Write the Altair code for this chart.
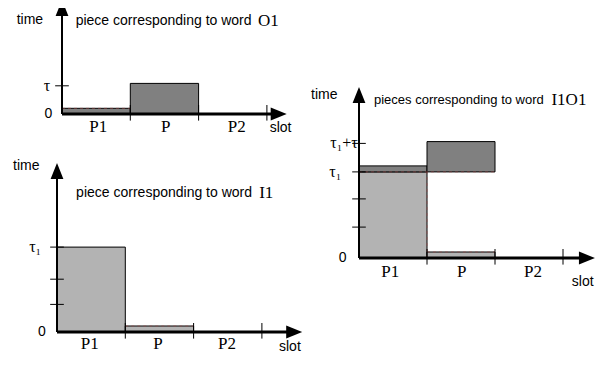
import altair as alt
import pandas as pd

SANS = "Liberation Sans"
SERIF = "Liberation Serif"
LIGHT = "#b3b3b3"
DARK = "#808080"

# ---------------- data (slot units on x, time units on y; tau = 1) ----------------
slot_names = ["P1", "P", "P2"]
slot_ticks = [1, 2, 3]

# panel "O1"
o1_bar_x0 = [0, 1]
o1_bar_x1 = [1, 2]
o1_bar_y0 = [0, 0]
o1_bar_y1 = [0.19, 1.02]
o1_bar_shade = ["dark", "dark"]
o1_yticks = [0.94]
o1_ylabels = ["τ", "0"]
o1_ylabel_pos = [0.94, 0]
o1_slot_label_x = [0.53, 1.52, 2.56]
o1_word = "O1"

# panel "I1"
i1_bar_x0 = [0, 1]
i1_bar_x1 = [1, 2]
i1_bar_y0 = [0, 0]
i1_bar_y1 = [2.83, 0.2]
i1_bar_shade = ["light", "light"]
i1_yticks = [0.92, 1.76, 2.83]
i1_ylabels = ["τ₁", "0"]
i1_ylabel_pos = [2.83, 0]
i1_slot_label_x = [0.48, 1.48, 2.49]
i1_word = "I1"

# panel "I1O1"
io_bar_x0 = [0, 0, 1, 1]
io_bar_x1 = [1, 1, 2, 2]
io_bar_y0 = [0, 2.87, 2.87, 0]
io_bar_y1 = [2.87, 3.07, 3.88, 0.2]
io_bar_shade = ["light", "dark", "dark", "light"]
io_yticks = [1.03, 1.97, 2.87, 3.82]
io_ylabels = ["τ₁+τ", "τ₁", "0"]
io_ylabel_pos = [3.82, 2.87, 0]
io_slot_label_x = [0.46, 1.51, 2.56]
io_word = "I1O1"

# ---------------- layout (pixels inside the 599x349 chart) ----------------
panels = [
    dict(name="o1", ox=54, oy=106, sx=68.3, sy=30, xtip=3.29, ytip=3.8, fs=14,
         bars=(o1_bar_x0, o1_bar_x1, o1_bar_y0, o1_bar_y1, o1_bar_shade),
         yticks=o1_yticks, ylabels=o1_ylabels, ylabel_pos=o1_ylabel_pos,
         ylabel_x=[-0.22, -0.2], slot_x=o1_slot_label_x, slot_y=-0.42,
         time_xy=(-0.47, 3.12), slot_xy=(3.2, -0.47),
         title="piece corresponding to word", title_xy=(0.2, 3.1), word=o1_word, word_x=2.87,
         dashes=[(0, 0.19, 1, 0.19)]),
    dict(name="i1", ox=49, oy=324, sx=68.3, sy=30, xtip=3.59, ytip=5.63, fs=14,
         bars=(i1_bar_x0, i1_bar_x1, i1_bar_y0, i1_bar_y1, i1_bar_shade),
         yticks=i1_yticks, ylabels=i1_ylabels, ylabel_pos=i1_ylabel_pos,
         ylabel_x=[-0.32, -0.22], slot_x=i1_slot_label_x, slot_y=-0.4,
         time_xy=(-0.45, 5.53), slot_xy=(3.41, -0.5),
         title="piece corresponding to word", title_xy=(0.28, 4.63), word=i1_word, word_x=2.96,
         dashes=[(1, 0.2, 2, 0.2)]),
    dict(name="io", ox=351, oy=250, sx=68, sy=30, xtip=3.47, ytip=5.7, fs=13,
         bars=(io_bar_x0, io_bar_x1, io_bar_y0, io_bar_y1, io_bar_shade),
         yticks=io_yticks, ylabels=io_ylabels, ylabel_pos=io_ylabel_pos,
         ylabel_x=[-0.22, -0.35, -0.24], slot_x=io_slot_label_x, slot_y=-0.47,
         time_xy=(-0.51, 5.43), slot_xy=(3.29, -0.8),
         title="pieces corresponding to word", title_xy=(0.22, 5.27), word=io_word, word_x=2.83,
         dashes=[(0, 2.87, 2, 2.87), (1, 0.2, 2, 0.2), (1, 0, 1, 2.87)]),
]

UP = "M0,-1L0.8,1L-0.8,1Z"
RIGHT = "M1,0L-1,-0.8L-1,0.8Z"

layers = []
for p in panels:
    xs = alt.Scale(domain=[0, 1], range=[p["ox"], p["ox"] + p["sx"]], nice=False, zero=False)
    ys = alt.Scale(domain=[0, 1], range=[p["oy"], p["oy"] - p["sy"]], nice=False, zero=False)

    def X(f):
        return alt.X(f, type="quantitative", scale=xs, axis=None)

    def Y(f):
        return alt.Y(f, type="quantitative", scale=ys, axis=None)

    bx0, bx1, by0, by1, bsh = p["bars"]
    bars = pd.DataFrame({"x0": bx0, "x1": bx1, "y0": by0, "y1": by1, "shade": bsh})
    layers.append(
        alt.Chart(bars).mark_rect(stroke="black", strokeWidth=1).encode(
            x=X("x0"), x2="x1", y=Y("y0"), y2="y1",
            color=alt.Color("shade:N", scale=alt.Scale(domain=["light", "dark"], range=[LIGHT, DARK]), legend=None),
        )
    )
    # faint dashed artefact lines
    dd = pd.DataFrame(p["dashes"], columns=["a", "b", "c", "d"])
    layers.append(
        alt.Chart(dd).mark_rule(color="#a04848", strokeDash=[3, 3], strokeWidth=1, opacity=0.55).encode(
            x=X("a"), y=Y("b"), x2="c", y2="d")
    )
    # x ticks at slot boundaries
    xt = pd.DataFrame({"s": slot_ticks, "lo": [-0.22] * 3, "hi": [0.3] * 3})
    layers.append(alt.Chart(xt).mark_rule(color="black", strokeWidth=1).encode(x=X("s"), y=Y("lo"), y2="hi"))
    # y ticks
    yt = pd.DataFrame({"t": p["yticks"], "l": [-0.1] * len(p["yticks"]), "r": [0.1] * len(p["yticks"])})
    layers.append(alt.Chart(yt).mark_rule(color="black", strokeWidth=1).encode(y=Y("t"), x=X("l"), x2="r"))
    # axes
    xa = pd.DataFrame({"a": [0], "b": [p["xtip"]], "y": [0]})
    layers.append(alt.Chart(xa).mark_rule(color="black", strokeWidth=3, x2Offset=-8).encode(x=X("a"), x2="b", y=Y("y")))
    ya = pd.DataFrame({"a": [0], "b": [p["ytip"]], "x": [0]})
    layers.append(alt.Chart(ya).mark_rule(color="black", strokeWidth=2, y2Offset=8).encode(y=Y("a"), y2="b", x=X("x")))
    # arrow heads
    layers.append(alt.Chart(xa).mark_point(shape=RIGHT, filled=True, size=256, color="black", opacity=1,
                                           strokeWidth=0, xOffset=-8).encode(x=X("b"), y=Y("y")))
    layers.append(alt.Chart(ya).mark_point(shape=UP, filled=True, size=256, color="black", opacity=1,
                                           strokeWidth=0, yOffset=8).encode(x=X("x"), y=Y("b")))
    # slot labels
    sl = pd.DataFrame({"x": p["slot_x"], "y": [p["slot_y"]] * 3, "t": slot_names})
    layers.append(alt.Chart(sl).mark_text(font=SERIF, fontSize=17, color="black").encode(x=X("x"), y=Y("y"), text="t:N"))
    # y labels
    yl = pd.DataFrame({"x": p["ylabel_x"], "y": p["ylabel_pos"], "t": p["ylabels"]})
    yl["f"] = [SANS if t == "0" else SERIF for t in p["ylabels"]]
    layers.append(alt.Chart(yl[yl.f == SERIF]).mark_text(font=SERIF, fontSize=16, color="black").encode(
        x=X("x"), y=Y("y"), text="t:N"))
    layers.append(alt.Chart(yl[yl.f == SANS]).mark_text(font=SANS, fontSize=14, color="black").encode(
        x=X("x"), y=Y("y"), text="t:N"))
    # axis names
    nm = pd.DataFrame({"x": [p["time_xy"][0], p["slot_xy"][0]], "y": [p["time_xy"][1], p["slot_xy"][1]],
                       "t": ["time", "slot"]})
    layers.append(alt.Chart(nm).mark_text(font=SANS, fontSize=14, color="black").encode(
        x=X("x"), y=Y("y"), text="t:N"))
    # title
    tt = pd.DataFrame({"x": [p["title_xy"][0]], "y": [p["title_xy"][1]], "t": [p["title"]]})
    layers.append(alt.Chart(tt).mark_text(font=SANS, fontSize=p["fs"], align="left", color="black").encode(
        x=X("x"), y=Y("y"), text="t:N"))
    tw = pd.DataFrame({"x": [p["word_x"]], "y": [p["title_xy"][1]], "t": [p["word"]]})
    layers.append(alt.Chart(tw).mark_text(font=SERIF, fontSize=17, align="left", color="black").encode(
        x=X("x"), y=Y("y"), text="t:N"))

chart = alt.layer(*layers).resolve_scale(x="independent", y="independent", color="independent").properties(
    width=599, height=349, autosize=alt.AutoSizeParams(type="none"), padding=0, background="white"
).configure_view(stroke=None)

chart.save("out.html", embed_options={"renderer": "svg", "actions": False})
